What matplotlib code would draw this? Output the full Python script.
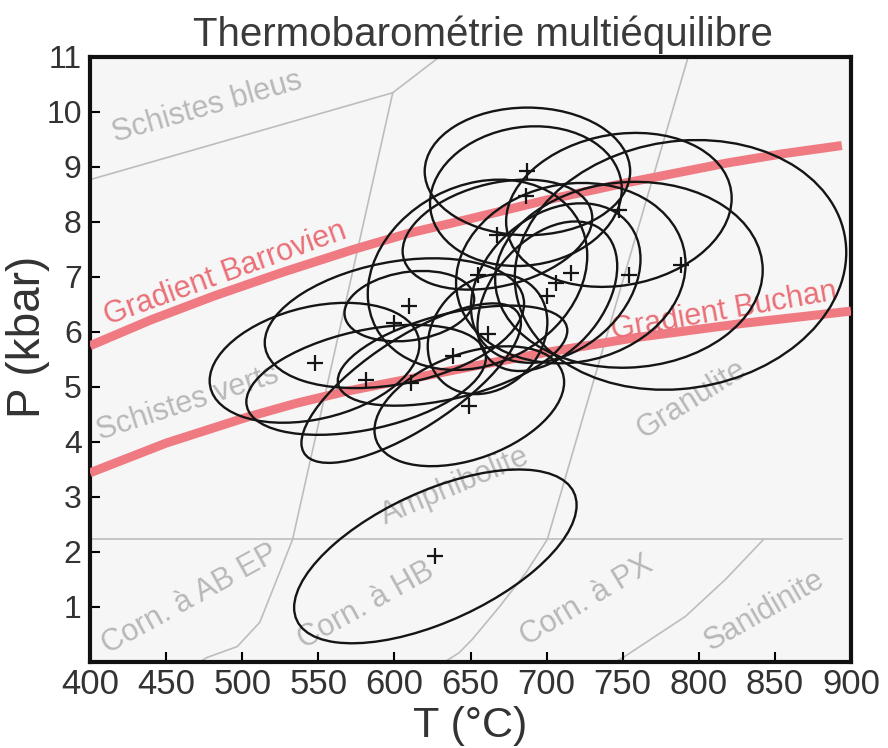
import numpy as np
import matplotlib
matplotlib.use('Agg')
import matplotlib.pyplot as plt
from matplotlib.patches import Ellipse

plt.rcParams['font.family'] = ['Liberation Sans', 'DejaVu Sans']

# estimations P-T (croix) et ellipses d'erreur
T_moy = [687.4, 686.4, 667.7, 654.6, 715.9, 747.5, 754.1, 706.0, 700.5, 661.2,
         638.2, 649.2, 547.5, 581.4, 600.0, 609.8, 611.0, 788.0, 626.9]
P_moy = [8.92, 8.47, 7.77, 7.04, 7.07, 8.22, 7.04, 6.89, 6.65, 5.96,
         5.57, 4.65, 5.44, 5.13, 6.16, 6.47, 5.07, 7.22, 1.92]
sig_T = [67.5, 63.0, 62.3, 72.1, 75.4, 74.1, 87.9, 55.7, 45.9, 39.3,
         75.4, 62.3, 68.9, 78.7, 85.2, 42.6, 72.1, 108.9, 92.8]
sig_P = [1.16, 1.27, 1.00, 1.73, 1.64, 1.40, 1.69, 1.45, 1.36, 1.09,
         0.91, 1.09, 1.09, 1.00, 1.18, 0.64, 1.45, 2.27, 1.58]
corr = [0.0, 0.1, 0.3, 0.2, 0.1, 0.15, 0.05, 0.3, 0.4, 0.2,
        0.5, 0.4, 0.3, 0.4, 0.3, 0.2, 0.75, 0.1, 0.59]

# gradients
T_barr = [400, 440, 481, 527, 573, 610, 650, 700, 752, 818, 855, 894]
P_barr = [5.75, 6.22, 6.65, 7.09, 7.50, 7.80, 8.06, 8.40, 8.71, 9.07, 9.24, 9.39]
T_buch = [400, 450, 503, 535, 568, 616, 656, 700, 759, 830, 900]
P_buch = [3.44, 3.98, 4.45, 4.70, 4.92, 5.18, 5.40, 5.63, 5.90, 6.16, 6.38]

# limites des facies
lim_bleus_T = [400, 598.9, 629.5]
lim_bleus_P = [8.77, 10.35, 11.0]
lim_verts_T = [598.9, 533.1, 524.6, 511.5, 496.7, 476.7, 472.0]
lim_verts_P = [10.35, 2.23, 1.63, 0.72, 0.28, 0.08, 0.0]
lim_gran_T = [793.0, 700.5, 686.6, 668.9, 651.1, 642.6, 633.0]
lim_gran_P = [11.0, 2.23, 1.63, 1.00, 0.41, 0.17, 0.0]
lim_corn_T = [400, 894]
lim_corn_P = [2.24, 2.24]
lim_sani_T = [842.6, 817.5, 791.3, 749.7, 745.0]
lim_sani_P = [2.23, 1.50, 0.83, 0.07, 0.0]

facies = ['Schistes bleus', 'Schistes verts', 'Amphibolite', 'Granulite',
          'Corn. à AB EP', 'Corn. à HB', 'Corn. à PX', 'Sanidinite']
facies_T = [477, 464, 640, 795, 465.6, 581, 726.6, 843]
facies_P = [10.08, 4.70, 3.19, 4.77, 1.13, 1.02, 1.11, 0.93]
facies_rot = [16, 18, 23, 32, 29, 29, 31, 30]

gris = '#bdbdbd'
rouge = '#f07a82'
noir = '#151515'

fig = plt.figure(figsize=(8.88, 7.48), dpi=100)
ax = fig.add_axes([0.1014, 0.115, 0.8569, 0.8088])
ax.set_facecolor('#f6f6f6')

for tt, pp in [(lim_bleus_T, lim_bleus_P), (lim_verts_T, lim_verts_P),
               (lim_gran_T, lim_gran_P), (lim_corn_T, lim_corn_P),
               (lim_sani_T, lim_sani_P)]:
    ax.plot(tt, pp, color=gris, lw=1.2, zorder=1)

for nom, t, p, r in zip(facies, facies_T, facies_P, facies_rot):
    ax.text(t, p, nom, color='#b8b8b8', fontsize=22, rotation=r,
            ha='center', va='center', rotation_mode='anchor', zorder=2)

ax.plot(T_barr, P_barr, color=rouge, lw=6.5, solid_capstyle='butt',
        solid_joinstyle='round', zorder=3)
ax.plot(T_buch, P_buch, color=rouge, lw=6.5, solid_capstyle='butt',
        solid_joinstyle='round', zorder=3)
ax.text(489, 7.06, 'Gradient Barrovien', color='#ea6f78', fontsize=22,
        rotation=20, ha='center', va='center', rotation_mode='anchor', zorder=4)
ax.text(817, 6.37, 'Gradient Buchan', color='#ea6f78', fontsize=22,
        rotation=10, ha='center', va='center', rotation_mode='anchor', zorder=4)

# ellipses d'erreur a partir de la covariance
for t, p, st, sp, r in zip(T_moy, P_moy, sig_T, sig_P, corr):
    cov = np.array([[st**2, r*st*sp], [r*st*sp, sp**2]])
    vals, vecs = np.linalg.eigh(cov)
    ang = np.degrees(np.arctan2(vecs[1, 1], vecs[0, 1]))
    ell = Ellipse((t, p), 2*np.sqrt(vals[1]), 2*np.sqrt(vals[0]), angle=ang,
                  fill=False, ec=noir, lw=1.7, zorder=5)
    ax.add_patch(ell)

ax.plot(T_moy, P_moy, '+', ms=11, mew=1.6, color=noir, zorder=6)

ax.set_xlim(400, 900)
ax.set_ylim(0, 11)
ax.set_xticks(range(400, 901, 50))
ax.set_yticks(range(1, 12))
ax.tick_params(direction='in', length=7, width=1.5, labelcolor='#333333')
ax.tick_params(axis='x', labelsize=25, pad=4)
ax.tick_params(axis='y', labelsize=23, pad=6)
for s in ax.spines.values():
    s.set_linewidth(3)
    s.set_color('#111111')

ax.set_xlabel('T (°C)', fontsize=31, color='#333333')
ax.xaxis.set_label_coords(0.5, -0.072)
ax.set_ylabel('P (kbar)', fontsize=33, color='#333333')
ax.yaxis.set_label_coords(-0.052, 0.537)
ax.set_title('Thermobarométrie multiéquilibre', fontsize=29, color='#3a3a3a',
             pad=8, x=0.516)

fig.savefig('out.png', dpi=100)
